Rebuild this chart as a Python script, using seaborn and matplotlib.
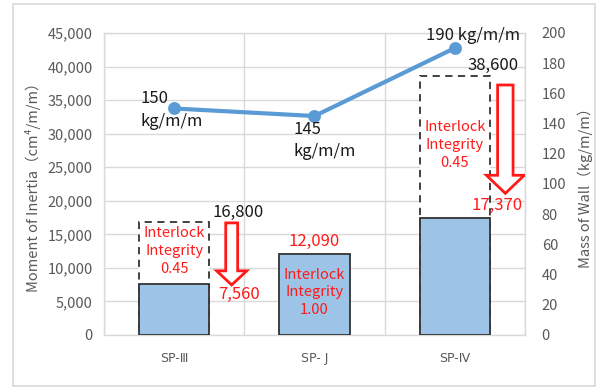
import numpy as np
import pandas as pd
import seaborn as sns
import matplotlib.pyplot as plt
from matplotlib.patches import FancyArrow, Rectangle

# --- data -------------------------------------------------------------
sections = ["SP-Ⅲ", "SP- J", "SP-Ⅳ"]
inertia_effective = [7560, 12090, 17370]      # after interlock reduction
inertia_nominal = [16800, np.nan, 38600]      # full section (before reduction)
interlock_integrity = [0.45, 1.00, 0.45]
wall_mass = [150, 145, 190]                   # kg/m/m
left_ticks = list(range(0, 45001, 5000))
right_ticks = list(range(0, 201, 20))

# --- style ------------------------------------------------------------
sns.set_theme(style="white")
plt.rcParams["font.family"] = ["Noto Sans CJK JP", "DejaVu Sans"]

GRID = "#d9d9d9"
TICK = "#595959"
BAR = "#9dc3e6"
EDGE = "#333333"
LINE = "#5b9bd5"
RED = "#ff1a1a"

fig = plt.figure(figsize=(5.98, 3.88), dpi=100)
ax = fig.add_axes([0.1739, 0.1366, 0.704, 0.7784])

# outer frame of the chart area
fig.patches.append(Rectangle((13 / 598, 2 / 388), 582 / 598, 382 / 388,
                             transform=fig.transFigure, fill=False,
                             edgecolor=GRID, linewidth=1.2))

df = pd.DataFrame({"section": sections,
                   "effective": inertia_effective,
                   "nominal": inertia_nominal})

# nominal section: dashed outline box
sns.barplot(data=df.dropna(), x="section", y="nominal", order=sections,
            width=0.5, color="white", edgecolor=EDGE, linewidth=1.3,
            linestyle=(0, (4, 3)), saturation=1, ax=ax, zorder=2)
# effective section: filled bar
sns.barplot(data=df, x="section", y="effective", order=sections,
            width=0.5, color=BAR, edgecolor=EDGE, linewidth=1.3,
            saturation=1, ax=ax, zorder=3)

ax.set_ylim(0, 45000)
ax.set_yticks(left_ticks)
ax.set_yticklabels([f"{v:,}" for v in left_ticks])
ax.set_xlim(-0.5, 2.5)
ax.set_xlabel("")
ax.set_ylabel("Moment of Inertia（cm⁴/m/m）", color=TICK, fontsize=10.5,
              labelpad=5)
ax.tick_params(axis="y", length=0, labelsize=10.5, colors=TICK, pad=8)
ax.tick_params(axis="x", length=0, labelsize=9, colors=TICK, pad=12)
ax.set_xticks(range(len(sections)))
ax.set_xticklabels(sections, family=["DejaVu Sans"])
ax.set_xticks([-0.5, 0.5, 1.5, 2.5], minor=True)
ax.tick_params(axis="x", which="minor", length=0)
ax.grid(True, axis="y", color=GRID, linewidth=1.0, zorder=0)
ax.grid(True, axis="x", which="minor", color=GRID, linewidth=1.0, zorder=0)
ax.set_axisbelow(True)
for s in ax.spines.values():
    s.set_color(GRID)
    s.set_linewidth(1.0)

# --- value labels ------------------------------------------------------
for i, (eff, nom, k) in enumerate(zip(inertia_effective, inertia_nominal,
                                      interlock_integrity)):
    label = f"Interlock\nIntegrity\n{k:.2f}"
    if np.isnan(nom):
        ax.text(i, eff + 600, f"{eff:,}", color=RED, fontsize=12,
                ha="center", va="bottom")
        ax.text(i, eff / 2 + 300, label, color=RED, fontsize=10.5,
                ha="center", va="center", linespacing=1.35, zorder=5)
    else:
        ax.text(i, (eff + nom) / 2 + 300, label, color=RED, fontsize=10.5,
                ha="center", va="center", linespacing=1.35, zorder=5)

# SP-III reduction
ax.text(0.27, 16800 + 250, f"{inertia_nominal[0]:,}", color="#1a1a1a",
        fontsize=12, ha="left", va="bottom")
ax.text(0.31, 7560 - 300, f"{inertia_effective[0]:,}", color=RED,
        fontsize=12, ha="left", va="top")
ax.add_patch(FancyArrow(0.41, inertia_nominal[0] - 100, 0,
                        -(inertia_nominal[0] - inertia_effective[0]),
                        width=0.085, head_width=0.215, head_length=2100,
                        length_includes_head=True, facecolor="white",
                        edgecolor=RED, linewidth=2.0, zorder=6))

# SP-IV reduction
ax.text(2.27, 38600 + 250, f"{inertia_nominal[2]:,}", color="#1a1a1a",
        fontsize=12, ha="center", va="bottom")
ax.text(2.30, 17370 + 700, f"{inertia_effective[2]:,}", color=RED,
        fontsize=12, ha="center", va="bottom", zorder=4)
ax.add_patch(FancyArrow(2.36, inertia_nominal[2] - 1350, 0,
                        -(inertia_nominal[2] - 1350 - 21100),
                        width=0.11, head_width=0.27, head_length=2700,
                        length_includes_head=True, facecolor="white",
                        edgecolor=RED, linewidth=2.0, zorder=6))

# --- wall mass on the secondary axis -----------------------------------
ax2 = ax.twinx()
sns.pointplot(x=sections, y=wall_mass, order=sections, color=LINE,
              markers="o", markersize=7, linewidth=3, errorbar=None, ax=ax2)
ax2.set_ylim(0, 200)
ax2.set_yticks(right_ticks)
ax2.set_xlim(-0.5, 2.5)
ax2.set_ylabel("Mass of Wall（kg/m/m）", color=TICK, fontsize=10.5,
               labelpad=8)
ax2.tick_params(axis="y", length=0, labelsize=10.5, colors=TICK, pad=12)
ax2.grid(False)
for s in ax2.spines.values():
    s.set_visible(False)

ax2.text(-0.24, wall_mass[0] - 1, f"{wall_mass[0]}\nkg/m/m", fontsize=12,
         color="#1a1a1a", ha="left", va="center", linespacing=1.45)
ax2.text(0.85, wall_mass[1] - 3, f"{wall_mass[1]}\nkg/m/m", fontsize=12,
         color="#1a1a1a", ha="left", va="top", linespacing=1.45)
ax2.text(2.13, wall_mass[2] + 2.5, f"{wall_mass[2]} kg/m/m", fontsize=12,
         color="#1a1a1a", ha="center", va="bottom")

fig.savefig("out.png", dpi=100)
